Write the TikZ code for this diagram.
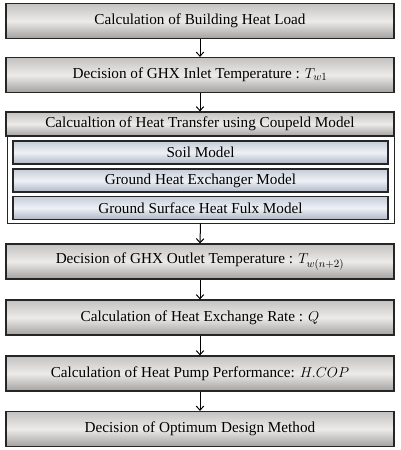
\documentclass[tikz,border=0pt]{standalone}
\usepackage{fontspec}
\setmainfont{Liberation Serif}
\usetikzlibrary{arrows.meta}
\definecolor{gtop}{HTML}{C4C2C0}
\definecolor{gmid}{HTML}{ECEBEA}
\definecolor{gbot}{HTML}{A3A1A0}
\definecolor{btop}{HTML}{C5CCD8}
\definecolor{bmid}{HTML}{EEF1F6}
\definecolor{bbot}{HTML}{AEB6C4}
\begin{document}
\begin{tikzpicture}[x=1pt,y=-1pt,
  txt/.style={font=\fontsize{15.2}{17}\selectfont\rmfamily},
  graybox/.style={rectangle, draw=black!85, line width=1.3pt,
    top color=gtop, bottom color=gbot, middle color=gmid,
    minimum width=388pt, minimum height=35pt, inner sep=0pt, txt},
  headbox/.style={graybox, minimum height=24pt},
  bluebox/.style={rectangle, draw=black!85, line width=1.3pt,
    top color=btop, bottom color=bbot, middle color=bmid,
    minimum width=375pt, minimum height=23pt, inner sep=0pt, txt},
  outerbox/.style={rectangle, draw=black!85, line width=1pt, fill=white,
    minimum width=387pt, minimum height=87pt, inner sep=0pt},
  flow/.style={-{Straight Barb[length=4pt,width=7.5pt,line width=1pt]}, line width=1pt, black}]
\useasboundingbox (0,0) rectangle (401,450);
\node[graybox] (b1) at (200,21) {Calculation of Building Heat Load};
\node[graybox] (b2) at (200,75) {Decision of GHX Inlet Temperature : $T_{w1}$};
\node[outerbox] (outer) at (200.5,179.5) {};
\node[headbox] (hd) at (200,124) {Calcualtion of Heat Transfer using Coupeld Model};
\node[bluebox] (s1) at (200.5,152.5) {Soil Model};
\node[bluebox] (s2) at (200.5,180.5) {Ground Heat Exchanger Model};
\node[bluebox] (s3) at (200.5,208) {Ground Surface Heat Fulx Model};
\node[graybox] (b4) at (200,261.5) {Decision of GHX Outlet Temperature : $T_{w(n+2)}$};
\node[graybox] (b5) at (200,317.5) {Calculation of Heat Exchange Rate : $Q$};
\node[graybox] (b6) at (200,373.5) {Calculation of Heat Pump Performance: $H.COP$};
\node[graybox] (b7) at (200,429) {Decision of Optimum Design Method};
\draw[flow] (b1.south) -- (b2.north);
\draw[flow] (b2.south) -- (hd.north);
\draw[flow] (outer.south) -- (b4.north);
\draw[flow] (b4.south) -- (b5.north);
\draw[flow] (b5.south) -- (b6.north);
\draw[flow] (b6.south) -- (b7.north);
\end{tikzpicture}
\end{document}
